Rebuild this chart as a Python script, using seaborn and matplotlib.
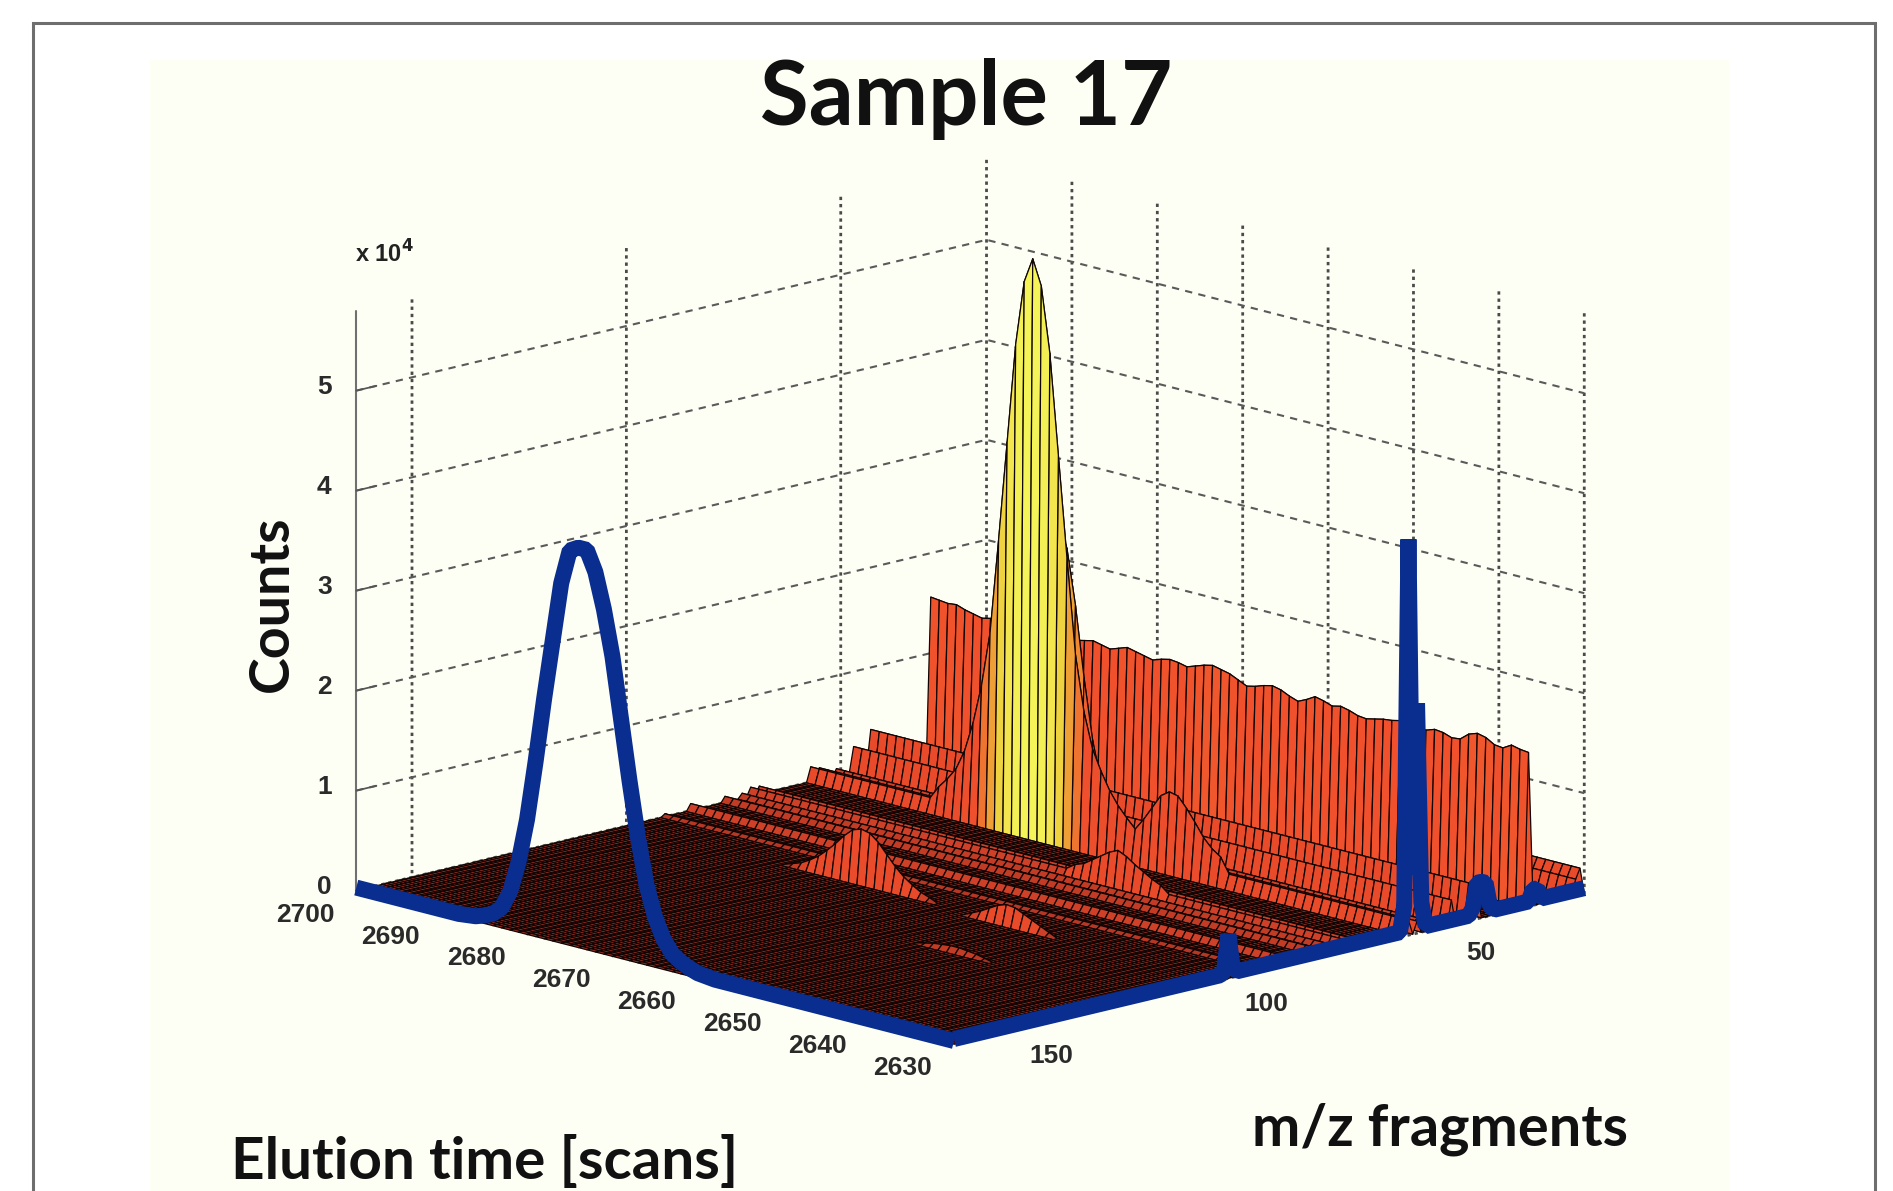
import numpy as np
import matplotlib
matplotlib.use('Agg')
import matplotlib.pyplot as plt
from matplotlib.colors import LinearSegmentedColormap
from matplotlib.patches import Rectangle
from mpl_toolkits.mplot3d import proj3d
import seaborn as sns

# axes ranges and ticks
scan_first = 2630
scan_last = 2700
mz_first = 16
mz_last = 163
z_top = 5.8
scan_ticks = [2630, 2640, 2650, 2660, 2670, 2680, 2690, 2700]
mz_ticks = [50, 100, 150]
z_ticks = [0, 1, 2, 3, 4, 5]

# big background ridge, one value per scan from 2630 to 2700
wall_mz = 29
wall_counts = [1.54, 1.55, 1.57, 1.52, 1.53, 1.58, 1.60, 1.57, 1.50, 1.49,
               1.52, 1.53, 1.50, 1.50, 1.52, 1.53, 1.51, 1.50, 1.48, 1.46,
               1.47, 1.50, 1.52, 1.50, 1.53, 1.55, 1.50, 1.46, 1.49, 1.53,
               1.55, 1.53, 1.50, 1.48, 1.52, 1.56, 1.58, 1.60, 1.58, 1.55,
               1.52, 1.54, 1.55, 1.53, 1.50, 1.52, 1.54, 1.56, 1.53, 1.50,
               1.52, 1.54, 1.52, 1.50, 1.51, 1.53, 1.52, 1.50, 1.49, 1.47,
               1.44, 1.42, 1.46, 1.50, 1.48, 1.50, 1.52, 1.55, 1.54, 1.55, 1.56]

# low ions that stay on for the whole time window
low_mz = [17, 18, 28, 41, 43, 47, 51, 55, 57, 69, 71, 73, 77, 85, 91]
low_counts = [0.26, 0.16, 0.12, 0.30, 0.38, 0.25, 0.07, 0.12, 0.15, 0.08, 0.09, 0.05, 0.06, 0.07, 0.03]

# eluting peaks: m/z, first scan, counts per scan
peak_mz = [57, 55, 57, 99, 71, 101, 120]
peak_start = [2663, 2664, 2652, 2665, 2652, 2650, 2648]
peak_counts = [
    [0.45, 0.55, 0.68, 0.85, 1.05, 1.40, 1.95, 2.90, 3.90, 4.90, 5.55, 5.80, 5.55, 4.90, 3.90, 2.90, 1.95, 1.40, 1.00, 0.70, 0.50, 0.38, 0.28],
    [0.30, 0.35, 0.45, 0.70, 1.10, 1.70, 2.40, 2.95, 3.20, 2.95, 2.40, 1.70, 1.10, 0.70, 0.45, 0.35, 0.28],
    [0.30, 0.36, 0.45, 0.58, 0.70, 0.80, 0.82, 0.76, 0.62, 0.48, 0.36, 0.28],
    [0.04, 0.07, 0.12, 0.18, 0.26, 0.36, 0.46, 0.53, 0.55, 0.52, 0.44, 0.34, 0.25, 0.17, 0.11, 0.06, 0.03],
    [0.16, 0.20, 0.25, 0.30, 0.36, 0.40, 0.36, 0.30, 0.24, 0.18, 0.15],
    [0.04, 0.08, 0.12, 0.16, 0.20, 0.21, 0.18, 0.13, 0.08, 0.04],
    [0.02, 0.04, 0.05, 0.06, 0.06, 0.05, 0.04, 0.02],
]

# blue chromatogram along the front left edge, one value per scan from 2630 to 2700
chrom_counts = [0.03, 0.03, 0.03, 0.03, 0.03, 0.03, 0.03, 0.03, 0.03, 0.03,
                0.03, 0.03, 0.03, 0.03, 0.03, 0.03, 0.03, 0.03, 0.03, 0.03,
                0.03, 0.03, 0.03, 0.03, 0.03, 0.03, 0.03, 0.03, 0.03, 0.04,
                0.05, 0.08, 0.12, 0.18, 0.30, 0.50, 0.80, 1.25, 1.80, 2.40,
                3.00, 3.45, 3.80, 4.00, 4.00, 3.95, 3.60, 3.00, 2.40, 1.75,
                1.15, 0.70, 0.38, 0.20, 0.12, 0.08, 0.05, 0.04, 0.03, 0.03,
                0.03, 0.03, 0.03, 0.03, 0.03, 0.03, 0.03, 0.03, 0.03, 0.03, 0.03]

# blue mass spectrum along the front right edge
spec_base = 0.05
spec_mz = [27, 28, 38, 39, 40, 41, 42, 54, 55, 56, 57, 58, 98, 99, 100]
spec_counts = [0.16, 0.16, 0.10, 0.34, 0.36, 0.36, 0.12, 0.30, 2.30, 0.60, 3.96, 0.30, 0.10, 0.44, 0.08]

scans = np.arange(scan_first, scan_last + 1)
mz = np.arange(mz_first, mz_last + 1)

counts = np.zeros((len(scans), len(mz)))
for m, level in zip(low_mz, low_counts):
    counts[:, m - mz_first] = level
counts[:, wall_mz - mz_first] = wall_counts
for m, start, values in zip(peak_mz, peak_start, peak_counts):
    i = start - scan_first
    counts[i:i + len(values), m - mz_first] = np.maximum(counts[i:i + len(values), m - mz_first], values)

spectrum = np.full(len(mz), spec_base)
for m, value in zip(spec_mz, spec_counts):
    spectrum[m - mz_first] = value

# seaborn's white style hides tick marks, the original has small ones
sns.set_theme(style="white", rc={'xtick.bottom': True, 'ytick.left': True})
plt.rcParams['font.family'] = ['Liberation Sans', 'DejaVu Sans']

surface_cmap = LinearSegmentedColormap.from_list('peak', [
    (0.00, '#A83222'), (0.02, '#E84A2A'), (0.26, '#F0502C'),
    (0.35, '#EE7A30'), (0.50, '#EE9E35'), (0.68, '#EFD440'), (1.00, '#F4F458')])

fig = plt.figure(figsize=(18.93, 11.91), dpi=100, facecolor='white')
W, H = 1893, 1191

# cream slide panel and the grey frame
fig.add_artist(Rectangle((150 / W, 0), 1579 / W, 1 - 60 / H, transform=fig.transFigure,
                         facecolor='#FEFFF4', edgecolor='none', zorder=-2))
fig.add_artist(Rectangle((33 / W, -0.02), 1842 / W, 1 + 0.02 - 23 / H, transform=fig.transFigure,
                         facecolor='none', edgecolor='#6E6E6E', linewidth=2.2, zorder=-1))

ax = fig.add_axes([0, 0, 1, 1], projection='3d', proj_type='ortho', computed_zorder=False)
ax.patch.set_alpha(0)
ax.set_xlim(mz_last, mz_first, view_margin=0)
ax.set_ylim(scan_first, scan_last, view_margin=0)
ax.set_zlim(0, z_top, view_margin=0)
ax.view_init(elev=14.35, azim=-134)
box = (726, 713, 496)
ax.set_box_aspect(box, zoom=1.0)


def corner_px(x, y, z):
    px, py, _ = proj3d.proj_transform(x, y, z, ax.get_proj())
    return ax.transData.transform((px, py))


# fit the floor to the corners seen in the picture (pixels, from bottom left)
fig.canvas.draw()
width = corner_px(mz_first, scan_first, 0)[0] - corner_px(mz_last, scan_last, 0)[0]
ax.set_box_aspect(box, zoom=(1584 - 356) / width)
fig.canvas.draw()
front = corner_px(mz_last, scan_first, 0)
ax.set_position([(954 - front[0]) / W, (H - 1044 - front[1]) / H, 1, 1])
fig.canvas.draw()

# colour each face by its highest corner, like the tall strips in the original
top = np.maximum.reduce([counts, np.roll(counts, -1, 0), np.roll(counts, -1, 1),
                         np.roll(np.roll(counts, -1, 0), -1, 1)])
face_colors = surface_cmap(top / z_top)
X, Y = np.meshgrid(mz, scans)

# one strip per m/z, far to near, so the ridges hide each other properly
for j in range(len(mz) - 1):
    surf = ax.plot_surface(X[:, j:j + 2], Y[:, j:j + 2], counts[:, j:j + 2], rstride=1, cstride=1,
                           shade=False, facecolors=face_colors[:, j:j + 2], zorder=2 + j * 0.001)
    surf.set_edgecolor('#100504')
    surf.set_linewidth(0.9)
    surf.set_clip_on(False)

blue = '#0A2D90'
line1, = ax.plot(np.full(len(scans), mz_last), scans, chrom_counts, color=blue, linewidth=11.5,
                 solid_joinstyle='bevel', solid_capstyle='butt', zorder=3)
line2, = ax.plot(mz, np.full(len(mz), scan_first), spectrum, color=blue, linewidth=11.5,
                 solid_joinstyle='bevel', solid_capstyle='butt', zorder=4)
line1.set_clip_on(False)
line2.set_clip_on(False)

# walls and grid
for axis in (ax.xaxis, ax.yaxis, ax.zaxis):
    axis.set_pane_color((1, 1, 1, 0))
    axis.pane.set_edgecolor((1, 1, 1, 0))
    axis._axinfo['tick']['inward_factor'] = 0
    axis._axinfo['tick']['outward_factor'] = 0.4
ax.xaxis._axinfo['grid'].update(color='#4A4A4A', linestyle=(0, (1.2, 1.4)), linewidth=2)
ax.yaxis._axinfo['grid'].update(color='#4A4A4A', linestyle=(0, (1.2, 1.4)), linewidth=2)
ax.zaxis._axinfo['grid'].update(color='#5A5A5A', linestyle=(0, (3.5, 3)), linewidth=1.5)
ax.grid(True)
ax.xaxis.line.set_color((1, 1, 1, 0))
ax.yaxis.line.set_color((1, 1, 1, 0))
ax.zaxis.line.set_color('#707070')
ax.zaxis.line.set_linewidth(1.5)

ax.set_xticks(mz_ticks)
ax.set_yticks(scan_ticks)
ax.set_zticks(z_ticks)
ax.set_xticklabels([])
ax.set_yticklabels([])
ax.set_zticklabels([])
ax.tick_params(axis='both', colors='#555555', width=1.5)

# tick labels sit at a fixed pixel offset from their tick
tick_font = dict(fontsize=19, weight='bold', color='#2A2A2A', ha='center', va='center')
for scan in scan_ticks:
    px, py = corner_px(mz_last, scan, 0)
    fig.text((px - 51) / W, (py - 24) / H, str(scan), **tick_font)
for m in mz_ticks:
    px, py = corner_px(m, scan_first, 0)
    fig.text((px + 42) / W, (py - 25) / H, str(m), **tick_font)
for z in z_ticks:
    px, py = corner_px(mz_last, scan_last, z)
    fig.text((px - 32) / W, (py + 4) / H, str(z), **tick_font)

# slide text
fig.text(966 / W, 1 - 99 / H, 'Sample 17', family='Lato', weight='bold', fontsize=64,
         color='#111111', ha='center', va='center')
fig.text(272 / W, 1 - 604 / H, 'Counts', family='Lato', weight='bold', fontsize=40,
         color='#111111', rotation=90, ha='center', va='center')
fig.text(231 / W, 1 - 1162 / H, 'Elution time [scans]', family='Lato', weight='bold', fontsize=42,
         color='#111111', ha='left', va='center')
fig.text(1440 / W, 1 - 1129 / H, 'm/z fragments', family='Lato', weight='bold', fontsize=41.5,
         color='#111111', ha='center', va='center')
fig.text(355 / W, 1 - 254 / H, r'x 10$^{\mathbf{4}}$', fontsize=17, weight='bold', color='#222222',
         ha='left', va='center')

fig.savefig('out.png', dpi=100)
